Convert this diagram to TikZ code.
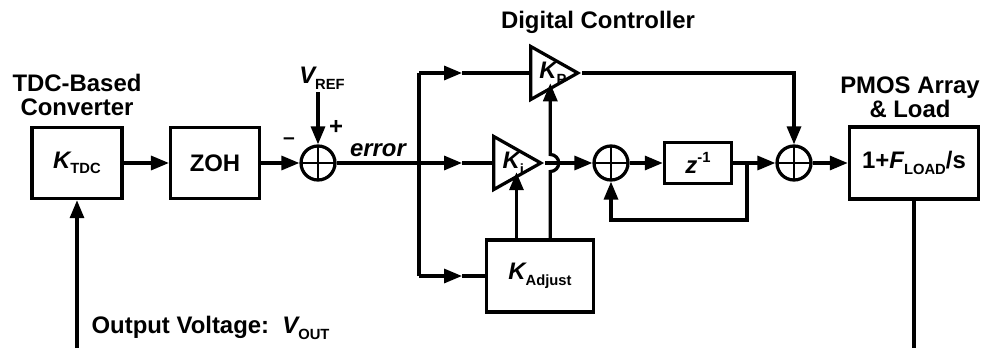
\documentclass[tikz,border=0pt]{standalone}
\usepackage{fontspec}
\setmainfont{Liberation Sans}
\usetikzlibrary{arrows.meta, positioning, shapes.geometric, calc}
\newcommand{\subtxt}[1]{\raisebox{-0.45ex}{\fontsize{10.5}{10.5}\selectfont\bfseries\upshape #1}}
\newcommand{\suptxt}[1]{\raisebox{0.9ex}{\fontsize{10.5}{10.5}\selectfont\bfseries\upshape #1}}

\begin{document}
\begin{tikzpicture}[
    x=0.025cm, y=0.025cm,
    line width=2.3pt, >={Triangle[length=0.45cm, width=0.35cm]},
    blk/.style={rectangle, draw, inner sep=0pt,
                font=\fontsize{17}{17}\selectfont\bfseries},
    sumnode/.style={circle, draw, minimum size=0.85cm, inner sep=0pt,
                path picture={\draw[line width=1.7pt]
                  (path picture bounding box.north) -- (path picture bounding box.south)
                  (path picture bounding box.west) -- (path picture bounding box.east);}},
    amp/.style={isosceles triangle, isosceles triangle stretches, draw,
                inner sep=0pt, minimum width=1.325cm, minimum height=1.175cm},
    lbl/.style={font=\fontsize{17}{17}\selectfont\bfseries, align=center, inner sep=0pt},
  ]
    \useasboundingbox (0,0) rectangle (984,-348);

    % blocks
    \node[blk, minimum width=2.25cm, minimum height=1.78cm] (ktdc) at (77,-163) {\itshape K\subtxt{TDC}};
    \node[blk, minimum width=2.22cm, minimum height=1.78cm] (zoh) at (215,-163) {ZOH};
    \node[sumnode] (sum1) at (318,-163) {};
    \node[amp, anchor=apex] (kp) at (582,-73) {};
    \node[amp, anchor=apex] (ki) at (545,-163) {};
    \node[blk, minimum width=2.68cm, minimum height=1.8cm] (kadj) at (540,-276) {\itshape K\subtxt{Adjust}};
    \node[sumnode] (sum2) at (611,-163) {};
    \node[blk, minimum width=1.68cm, minimum height=1.03cm] (zinv) at (698,-163) {\itshape z\suptxt{-1}};
    \node[sumnode] (sum3) at (794,-163) {};
    \node[blk, minimum width=3.23cm, minimum height=1.8cm] (pmos) at (914,-163) {1+{\itshape F}\subtxt{LOAD}/s};

    % labels
    \node[lbl] (kpLbl) at ($(kp.west)!0.45!(kp.apex)$) {\itshape K\subtxt{P}};
    \node[lbl] (kiLbl) at ($(ki.west)!0.4!(ki.apex)$) {\itshape K\subtxt{i}};
    \node[lbl] (tdcTitle) at (77,-95) {TDC-Based\\Converter};
    \node[lbl] (dcTitle) at (598,-22) {Digital Controller};
    \node[lbl] (pmosTitle) at (910,-97) {PMOS Array\\\& Load};
    \node[lbl] (vref) at (322,-78) {{\itshape V}\subtxt{REF}};
    \node[lbl] (plus) at (336,-127) {+};
    \node[lbl, font=\fontsize{15}{15}\selectfont\bfseries] (minus) at (289,-141) {–};
    \node[lbl] (err) at (378,-150) {\itshape error};
    \node[lbl, anchor=west] (vout) at (90,-328) {Output Voltage:\ \ {\itshape V}\subtxt{OUT}};

    % points
    \coordinate (vin) at (77,-348);
    \coordinate (vrefIn) at (318,-92);
    \coordinate (br) at (419,-163);
    \coordinate (brTop) at (419,-73);
    \coordinate (brBot) at (419,-276);
    \coordinate (mTop) at (462,-73);
    \coordinate (mMid) at (462,-163);
    \coordinate (mBot) at (462,-276);
    \coordinate (kiIn) at ($(ki.south west)!0.46!(ki.apex)$);
    \coordinate (kpIn) at ($(kp.south west)!0.40!(kp.apex)$);
    \coordinate (fbTap) at (747,-163);
    \coordinate (pmosOut) at (914,-348);

    % connectors
    \draw[->] (vin) -- (ktdc.south);
    \draw[->] (ktdc) -- (zoh);
    \draw[->] (zoh) -- (sum1);
    \draw[->] (vrefIn) -- (sum1);
    \draw (sum1) -- (br);
    \draw (brTop) -- (brBot);
    \draw[->] (brTop) -- (mTop);
    \draw (mTop) -- (kp.west);
    \draw[->] (br) -- (mMid);
    \draw (mMid) -- (ki.west);
    \draw[->] (brBot) -- (mBot);
    \draw (mBot) -- (kadj);
    \draw[->] (ki.apex) -- (sum2);
    \draw[->] (kadj.north -| kiIn) -- (kiIn);
    \draw[->] (kadj.north -| kpIn) -- ($(kpIn |- ki.apex)+(0,-8.5)$)
      arc[start angle=-90, end angle=90, radius=8.5] -- (kpIn);
    \draw[->] (sum2) -- (zinv);
    \draw[->] (zinv) -- (sum3);
    \draw[->] (fbTap) -- ++(0,-57) -| (sum2.south);
    \draw[->] (kp.apex) -| (sum3.north);
    \draw[->] (sum3) -- (pmos);
    \draw (pmos.south) -- (pmosOut);
  \end{tikzpicture}
\end{document}
